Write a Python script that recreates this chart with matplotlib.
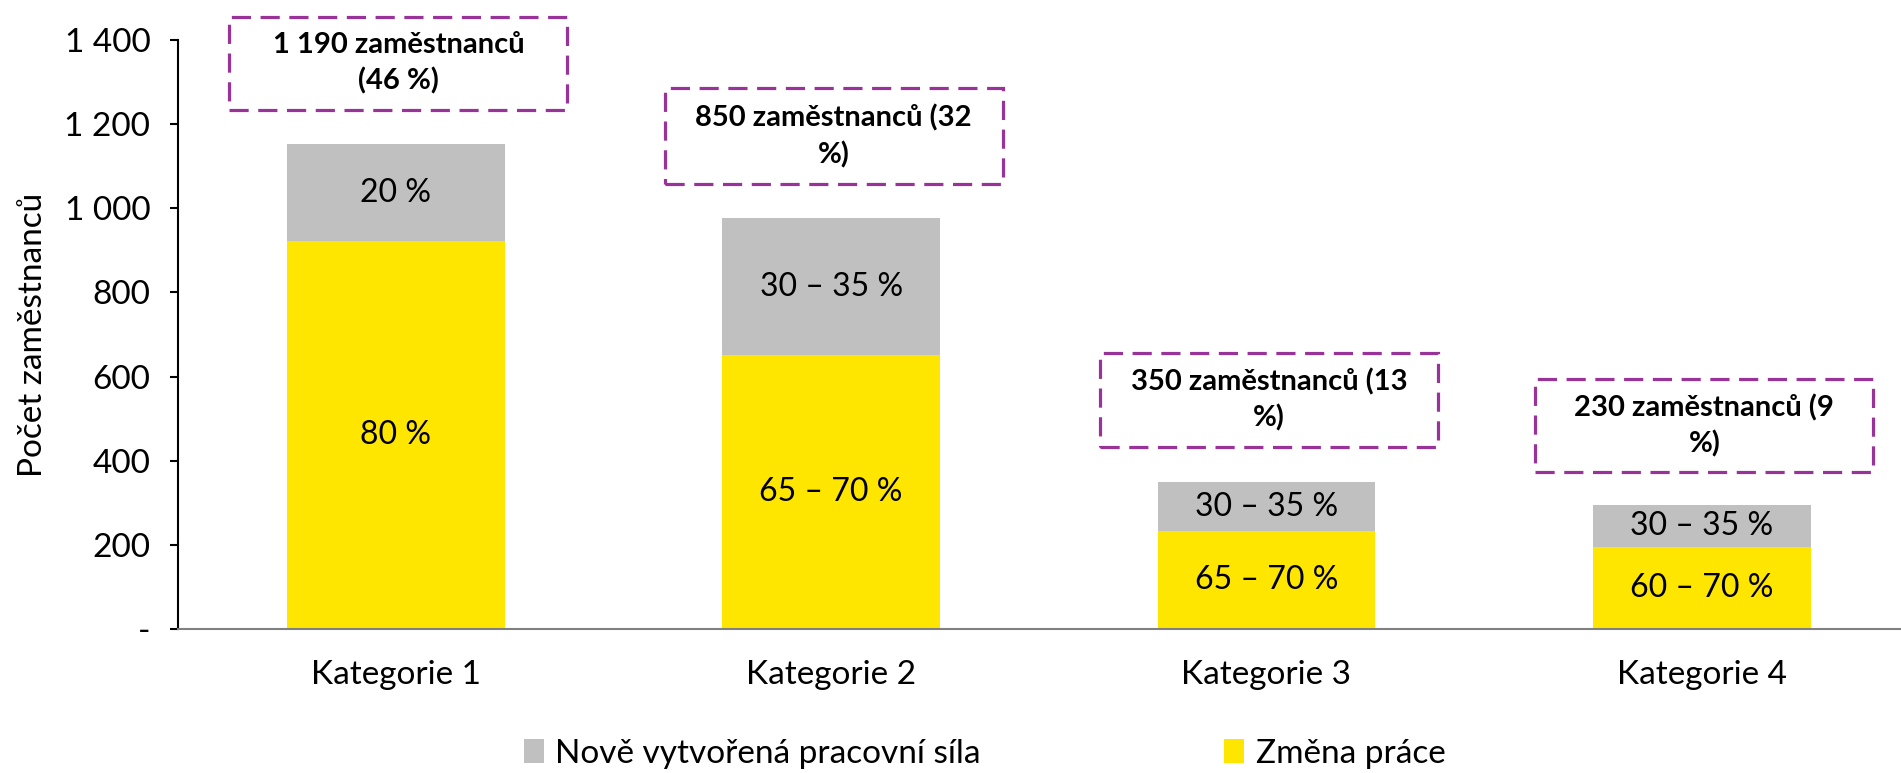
import numpy as np
import matplotlib.pyplot as plt
from matplotlib.patches import Rectangle

plt.rcParams['font.family'] = ['Lato', 'DejaVu Sans']

categories = ['Kategorie 1', 'Kategorie 2', 'Kategorie 3', 'Kategorie 4']
zmena_prace = [922, 651, 233, 196]
nove_sily = [230, 326, 116, 98]
label_zmena = ['80 %', '65 – 70 %', '65 – 70 %', '60 – 70 %']
label_nove = ['20 %', '30 – 35 %', '30 – 35 %', '30 – 35 %']
box_texts = ['1 190 zaměstnanců\n(46 %)', '850 zaměstnanců (32\n%)',
             '350 zaměstnanců (13\n%)', '230 zaměstnanců (9\n%)']
box_bottom = [1233, 1057, 432, 372]
box_top = [1455, 1285, 657, 593]
yticks = [0, 200, 400, 600, 800, 1000, 1200, 1400]

yellow = '#FFE600'
grey = '#C0C0C0'
purple = '#993399'

fig = plt.figure(figsize=(19.01, 7.73), dpi=100)
ax = fig.add_axes([0.0937, 0.1863, 0.916, 0.7620])

x = np.arange(len(categories))
w = 0.5
b1 = ax.bar(x, zmena_prace, w, color=yellow, label='Změna práce', zorder=2)
b2 = ax.bar(x, nove_sily, w, bottom=zmena_prace, color=grey,
            label='Nově vytvořená pracovní síla', zorder=2)

for i in range(len(x)):
    ax.text(x[i], zmena_prace[i] / 2, label_zmena[i], ha='center', va='center', fontsize=23)
    ax.text(x[i], zmena_prace[i] + nove_sily[i] / 2, label_nove[i], ha='center',
            va='center', fontsize=23)
    bw = 0.776
    rect = Rectangle((x[i] + 0.006 - bw / 2, box_bottom[i]), bw, box_top[i] - box_bottom[i],
                     fill=False, edgecolor=purple, lw=2.3, linestyle=(0, (6, 3)),
                     clip_on=False, zorder=3)
    ax.add_patch(rect)
    ax.text(x[i] + 0.006, (box_bottom[i] + box_top[i]) / 2, box_texts[i], ha='center',
            va='center', fontsize=21, fontweight='bold', linespacing=1.42, clip_on=False)

ax.set_xlim(-0.5, 3.5)
ax.set_ylim(0, 1400)
ax.set_yticks(yticks)
ax.set_yticklabels(['-'] + ['{:,}'.format(v).replace(',', ' ') for v in yticks[1:]], fontsize=24)
ax.set_xticks(x)
ax.set_xticklabels(categories, fontsize=24)
ax.tick_params(axis='x', length=0, pad=22)
ax.tick_params(axis='y', direction='out', length=6, width=1.5, pad=14)
ax.set_ylabel('Počet zaměstnanců', fontsize=24, labelpad=12)

for s in ['top', 'right']:
    ax.spines[s].set_visible(False)
ax.spines['left'].set_linewidth(1.5)
ax.spines['bottom'].set_color('#808080')
ax.spines['bottom'].set_linewidth(1.5)

fig.legend(handles=[b2, b1], loc='center', bbox_to_anchor=(0.518, 0.025), ncol=2,
           frameon=False, fontsize=24, handlelength=0.6, handleheight=0.75,
           handletextpad=0.35, columnspacing=7.3)

fig.savefig('out.png', dpi=100)
